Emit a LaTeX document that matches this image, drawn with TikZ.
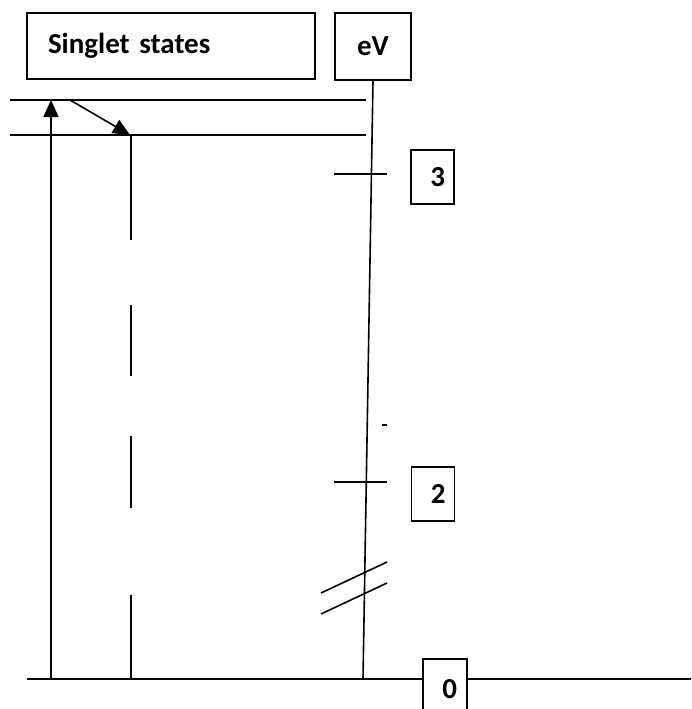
\documentclass[tikz,border=0pt]{standalone}
\usepackage{fontspec}
\setmainfont{Carlito}
\usetikzlibrary{arrows.meta,positioning}

\tikzset{
  box/.style={draw, line width=1.6pt, font=\bfseries\fontsize{29}{32}\selectfont, inner sep=0pt},
  numbox/.style={box, minimum width=43pt, minimum height=54pt, inner xsep=9pt, text width=25pt, align=right},
  level/.style={line width=1.6pt},
  tri/.style={-{Triangle[length=17pt,width=15pt]}}
}

\begin{document}
\begin{tikzpicture}[x=1pt,y=-1pt]
\useasboundingbox (0,0) rectangle (691,709);
\node[box, minimum width=288pt, minimum height=66pt, inner xsep=21pt, text width=246pt, align=left] (singlet) at (171,46) {Singlet states};
\node[box, minimum width=76pt, minimum height=67pt] (ev) at (373,46.5) {eV};
\node[numbox] (three) at (432.5,177) {3};
\node[numbox] (two) at (433,494) {2};
\node[numbox, minimum height=60pt, minimum width=44pt, text width=24pt, inner xsep=10pt, anchor=north] (zero) at (445,658) {0};
% axis
\coordinate (top) at (ev.south);
\coordinate (origin) at (363,679);
\draw[level] (top) -- (origin);
% levels
\draw[level] (10,100) -- (366.3,100);
\draw[level] (10,135) -- (365.7,135);
\draw[level] (334,174) -- (387,174);
\draw[level] (334,482) -- (387,482);
\draw[level] (382,425) -- (387,425);
% break
\draw[level] (321,593) -- (387,562);
\draw[level] (321,614) -- (387,583);
% base line
\draw[level] (27,679) -- (origin) -- (zero.west |- origin);
\draw[level] (zero.east |- origin) -- (691,679);
% transitions
\draw[level, tri] (51,679) -- (51,100);
\draw[level, tri] (70,100) -- (130,135);
\draw[level] (131,135) -- (131,240);
\draw[level] (131,305) -- (131,376);
\draw[level] (131,436) -- (131,508);
\draw[level] (131,595) -- (131,679);
\end{tikzpicture}
\end{document}
